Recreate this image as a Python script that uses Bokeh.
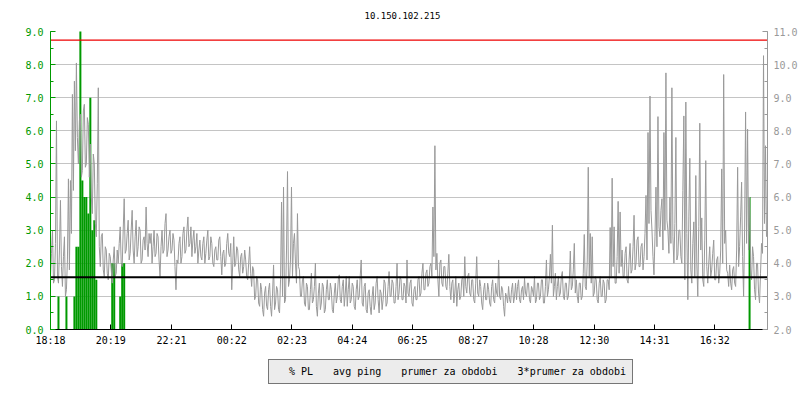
from bokeh.plotting import figure
from bokeh.layouts import column
from bokeh.models import (Range1d, LinearAxis, FixedTicker, SingleIntervalTicker,
                          PrintfTickFormatter, Legend, LegendItem)
from bokeh.embed import file_html
from bokeh.resources import INLINE

title_text = "10.150.102.215"

# time axis: minutes since 18:18, one ping sample every 2 minutes
x_start = 0
x_end = 1440
tick_minutes = [0, 121, 243, 364, 485, 606, 727, 849, 970, 1092, 1213, 1334]
tick_labels = ["18:18", "20:19", "22:21", "00:22", "02:23", "04:24",
               "06:25", "08:27", "10:28", "12:30", "14:31", "16:32"]

# avg ping [ms] (right axis)
ping_ms = [
    3.6, 4.3, 5.0, 3.4, 3.5, 4.6, 8.3, 3.6, 3.4, 4.4, 5.9, 3.9, 3.3, 4.2, 4.8, 3.0, 3.2, 4.1, 6.55, 3.8,
    6.5, 4.9, 9.1, 6.2, 9.5, 7.4, 10.05, 7.8, 7.0, 8.3, 8.5, 6.6, 6.8, 8.6, 8.8, 6.9, 7.0, 8.4, 8.2, 6.6,
    7.6, 6.0, 5.5, 7.3, 7.0, 5.2, 4.8, 6.4, 9.3, 4.5, 3.9, 4.8, 4.9, 3.8, 3.6, 4.5, 4.4, 3.7, 3.5, 4.3,
    4.2, 3.8, 3.4, 4.1, 4.5, 3.6, 3.7, 4.4, 4.0, 4.6, 5.1, 4.0, 3.9, 5.0, 5.95, 4.3, 4.4, 4.9, 5.3, 4.1,
    4.3, 5.0, 5.6, 4.4, 4.0, 4.8, 5.3, 4.2, 4.5, 5.1, 5.0, 4.0, 4.1, 4.7, 4.8, 4.4, 5.7, 4.6, 4.2, 4.9,
    4.6, 4.9, 4.0, 4.5, 5.0, 4.2, 4.3, 4.9, 4.8, 4.1, 3.6, 4.5, 5.0, 4.3, 4.4, 5.2, 5.5, 4.2, 4.4, 4.8,
    5.0, 4.3, 4.4, 4.9, 4.7, 3.9, 3.2, 4.1, 4.0, 4.6, 4.8, 4.0, 4.2, 4.9, 5.1, 4.3, 4.4, 5.0, 5.4, 4.5,
    4.6, 5.1, 4.2, 4.7, 5.0, 4.3, 4.5, 4.9, 4.0, 4.4, 4.7, 4.2, 4.1, 4.6, 4.8, 4.0, 4.3, 4.7, 5.0, 4.1,
    4.2, 4.8, 4.6, 4.0, 3.9, 4.4, 4.5, 4.1, 4.1, 4.7, 4.8, 4.2, 3.65, 4.3, 4.4, 3.9, 4.0, 4.6, 4.9, 4.3,
    4.2, 4.6, 3.2, 4.0, 4.8, 3.9, 4.0, 4.5, 4.4, 3.8, 3.6, 4.2, 4.3, 3.7, 3.9, 4.4, 4.1, 3.6, 3.5, 4.0,
    4.5, 3.7, 3.3, 3.9, 3.8, 2.9, 3.0, 3.6, 3.5, 2.8, 2.7, 3.4, 3.2, 2.6, 2.4, 3.1, 3.3, 2.7, 2.6, 3.2,
    3.4, 2.7, 2.4, 3.1, 3.95, 2.6, 2.8, 3.3, 3.2, 2.6, 2.5, 3.5, 5.85, 3.0, 6.3, 2.8, 2.9, 4.4, 6.77, 3.3,
    3.5, 4.1, 6.3, 3.6, 4.6, 4.9, 4.0, 3.4, 5.5, 3.9, 3.8, 3.0, 3.0, 3.5, 3.6, 2.8, 2.7, 3.4, 3.3, 2.6,
    2.6, 3.2, 3.7, 2.8, 2.9, 3.3, 4.0, 2.7, 2.4, 3.1, 3.4, 2.6, 2.8, 3.4, 3.3, 2.5, 2.6, 3.2, 3.5, 2.9,
    2.9, 3.4, 3.2, 2.6, 2.5, 3.1, 3.4, 2.8, 3.0, 3.5, 3.65, 2.9, 2.8, 3.3, 3.5, 2.7, 3.1, 3.6, 2.7, 3.2,
    3.6, 2.8, 2.9, 3.4, 3.3, 2.7, 2.6, 3.2, 3.5, 2.9, 3.0, 3.6, 4.1, 2.8, 2.7, 3.3, 3.4, 2.6, 2.5, 3.1,
    3.2, 2.7, 2.45, 3.0, 3.3, 2.6, 2.8, 3.4, 3.6, 2.9, 2.5, 3.2, 3.1, 2.6, 2.9, 3.5, 3.4, 2.7, 2.8, 3.3,
    3.75, 3.0, 3.0, 3.5, 3.4, 2.8, 2.8, 3.3, 4.0, 2.9, 3.1, 3.6, 3.5, 2.9, 2.9, 3.4, 3.3, 2.8, 4.1, 3.1,
    3.0, 3.4, 3.5, 2.8, 2.7, 3.2, 3.3, 2.9, 2.9, 3.5, 3.6, 3.0, 3.1, 3.7, 4.0, 3.2, 3.2, 3.7, 3.8, 3.3,
    3.4, 3.9, 4.0, 3.6, 5.7, 4.2, 7.55, 3.8, 4.3, 3.5, 3.0, 4.0, 4.1, 3.4, 3.3, 3.9, 3.9, 3.3, 3.2, 3.7,
    4.27, 3.3, 2.9, 3.4, 3.5, 2.8, 3.1, 3.6, 2.7, 3.2, 3.4, 2.9, 3.0, 3.5, 3.6, 3.0, 4.2, 3.3, 3.1, 3.6,
    3.7, 3.1, 3.0, 3.5, 3.5, 2.9, 2.8, 3.4, 4.2, 3.1, 3.0, 3.5, 3.3, 2.8, 2.6, 3.2, 3.4, 2.9, 2.9, 3.4,
    3.2, 2.8, 2.7, 3.3, 3.5, 2.9, 2.8, 3.4, 3.1, 3.0, 4.1, 3.0, 2.9, 3.3, 3.2, 2.7, 2.4, 3.1, 3.0, 2.8,
    3.3, 2.9, 2.8, 3.2, 3.4, 2.8, 3.0, 3.4, 2.9, 3.3, 3.5, 2.9, 2.8, 3.2, 3.3, 2.9, 3.55, 3.1, 3.0, 3.4,
    3.4, 2.9, 2.8, 3.3, 3.2, 3.0, 3.6, 2.8, 2.9, 3.4, 3.4, 2.9, 3.0, 3.5, 3.5, 2.8, 2.8, 3.3, 4.1, 3.0,
    3.2, 3.6, 4.27, 3.4, 5.15, 3.0, 3.3, 3.7, 2.9, 3.3, 3.6, 3.0, 3.1, 3.6, 3.75, 3.0, 2.9, 3.4, 3.4, 2.9,
    3.0, 3.5, 4.37, 3.2, 3.3, 3.8, 4.6, 3.1, 3.5, 3.0, 2.8, 3.4, 3.4, 2.9, 3.0, 3.7, 4.87, 3.3, 3.2, 4.1,
    6.9, 3.6, 4.9, 3.4, 4.8, 3.0, 3.1, 3.6, 3.5, 2.9, 2.8, 3.4, 3.6, 3.0, 3.0, 3.5, 3.4, 2.8, 2.9, 3.5,
    3.5, 3.2, 5.08, 3.6, 6.57, 3.9, 5.1, 3.4, 3.4, 4.2, 5.87, 3.7, 5.55, 3.9, 4.4, 3.6, 3.6, 4.3, 4.5, 3.5,
    3.4, 4.1, 4.6, 3.7, 3.8, 4.5, 5.45, 3.8, 4.0, 4.7, 4.8, 3.9, 3.9, 4.5, 4.6, 3.8, 4.2, 4.9, 6.05, 4.1,
    7.95, 5.2, 9.05, 5.6, 5.0, 4.2, 3.65, 4.8, 6.3, 4.5, 8.43, 5.1, 4.8, 5.6, 5.95, 4.4, 7.95, 5.0, 9.75, 5.3,
    5.0, 4.3, 6.0, 4.6, 9.3, 4.8, 4.0, 5.2, 7.8, 4.1, 4.25, 5.0, 5.0, 4.2, 4.0, 6.2, 8.45, 3.5, 8.87, 4.9,
    2.9, 5.4, 7.17, 3.8, 3.4, 4.6, 5.25, 3.6, 6.65, 4.0, 3.0, 5.1, 8.23, 4.4, 5.37, 3.5, 3.3, 4.7, 7.1, 3.9,
    3.4, 4.0, 4.5, 3.6, 3.8, 4.3, 4.7, 3.5, 3.5, 4.1, 4.2, 3.4, 3.7, 4.4, 6.85, 4.0, 9.7, 4.6, 5.0, 3.8,
    3.7, 3.3, 3.95, 3.4, 3.2, 3.8, 3.9, 3.4, 3.3, 4.4, 6.9, 3.9, 4.5, 5.4, 6.45, 4.2, 3.0, 5.0, 8.57, 4.6,
    8.05, 4.4, 6.0, 3.8, 3.5, 4.5, 4.2, 3.2, 2.9, 4.0, 4.0, 3.1, 2.8, 3.7, 4.6, 4.3, 10.27, 5.2, 7.55, 4.8,
]
ping_minutes = list(range(0, 2 * len(ping_ms), 2))

# packet loss [%] (left axis), only the non-zero samples (4-minute steps)
pl_minutes = [16, 32, 48, 52, 56, 60, 64, 68, 72, 76, 80, 84, 88, 92,
              124, 128, 140, 144, 148, 1404]
pl_values = [1.0, 1.0, 1.0, 2.5, 2.5, 100.0, 4.5, 4.0, 4.0, 3.5, 7.0, 3.0, 3.3, 1.5,
             2.0, 2.0, 1.0, 2.0, 2.0, 4.0]
pl_zero = [0.0] * len(pl_values)

# average ping for the whole period [ms]
mean_ping = 3.58
mean_x = [x_start, x_end]
mean_y = [mean_ping, mean_ping]
triple_y = [3 * mean_ping, 3 * mean_ping]

legend_labels = ["% PL", "avg ping", "prumer za obdobi", "3*prumer za obdobi"]

GREEN = "#009900"
GRAY = "#999999"
RED = "#ee0000"
GRID = "#c4c4c4"
FONT = "DejaVu Sans Mono"

p = figure(width=800, height=348, output_backend="svg", toolbar_location=None,
           x_range=Range1d(x_start, x_end), y_range=Range1d(0, 9),
           min_border_left=50, min_border_right=30, min_border_top=31,
           min_border_bottom=18)
p.outline_line_color = None
p.extra_y_ranges = {"ping": Range1d(2, 11)}

# title
p.title.text = title_text
p.title.align = "left"
p.title.offset = 314
p.title.standoff = 21
p.title.vertical_align = "top"
p.title.text_font = FONT
p.title.text_font_size = "9px"
p.title.text_font_style = "normal"
p.title.text_color = "black"

# grids
p.xgrid.visible = False
yt = SingleIntervalTicker(interval=1, num_minor_ticks=2)
p.ygrid.ticker = yt
p.ygrid.grid_line_color = GRID

# x axis
xa = p.xaxis[0]
xa.ticker = FixedTicker(ticks=tick_minutes)
xa.major_label_overrides = {t: s for t, s in zip(tick_minutes, tick_labels)}
xa.axis_line_color = "black"
xa.major_tick_line_color = "black"
xa.major_tick_in = 5
xa.major_tick_out = 0
xa.minor_tick_line_color = None
xa.major_label_standoff = 5
xa.major_label_text_font = FONT
xa.major_label_text_font_size = "10px"
xa.major_label_text_color = "black"

# left axis
ya = p.yaxis[0]
ya.ticker = yt
ya.formatter = PrintfTickFormatter(format="%.1f")
ya.axis_line_color = GREEN
ya.major_tick_line_color = GREEN
ya.minor_tick_line_color = GREEN
ya.major_tick_in = 5
ya.major_tick_out = 0
ya.minor_tick_in = 3
ya.minor_tick_out = 0
ya.major_label_standoff = 7
ya.major_label_text_font = FONT
ya.major_label_text_font_size = "10px"
ya.major_label_text_color = GREEN

# right axis
ra = LinearAxis(y_range_name="ping",
                ticker=SingleIntervalTicker(interval=1, num_minor_ticks=2),
                formatter=PrintfTickFormatter(format="%.1f"))
ra.axis_line_color = GRAY
ra.major_tick_line_color = GRAY
ra.minor_tick_line_color = GRAY
ra.major_tick_in = 5
ra.major_tick_out = 0
ra.minor_tick_in = 3
ra.minor_tick_out = 0
ra.major_label_standoff = 6
ra.major_label_text_font = FONT
ra.major_label_text_font_size = "10px"
ra.major_label_text_color = GRAY
p.add_layout(ra, "right")

# data
p.segment(x0=pl_minutes, y0=pl_zero, x1=pl_minutes, y1=pl_values,
          line_color=GREEN, line_width=2)
p.line(ping_minutes, ping_ms, y_range_name="ping", line_color=GRAY, line_width=1)
p.line(mean_x, mean_y, y_range_name="ping", line_color="black", line_width=2)
p.line(mean_x, triple_y, y_range_name="ping", line_color=RED, line_width=1.2)

# legend strip below the chart (its own small figure, same styles as the series)
lg = figure(width=800, height=52, output_backend="svg", toolbar_location=None,
            x_range=Range1d(0, 1), y_range=Range1d(0, 1),
            x_axis_type=None, y_axis_type=None, min_border=0)
lg.outline_line_color = None
lg.grid.visible = False
k_pl = lg.segment(x0=[], y0=[], x1=[], y1=[], line_color=GREEN, line_width=2)
k_ping = lg.line(x=[], y=[], line_color=GRAY, line_width=2)
k_mean = lg.line(x=[], y=[], line_color="black", line_width=2)
k_triple = lg.line(x=[], y=[], line_color=RED, line_width=2)

legend = Legend(items=[
    LegendItem(label=legend_labels[0], renderers=[k_pl]),
    LegendItem(label=legend_labels[1], renderers=[k_ping]),
    LegendItem(label=legend_labels[2], renderers=[k_mean]),
    LegendItem(label=legend_labels[3], renderers=[k_triple]),
], location=(218, 16), orientation="horizontal")
legend.label_text_font = FONT
legend.label_text_font_size = "10px"
legend.label_text_color = "black"
legend.glyph_width = 10
legend.glyph_height = 11
legend.label_height = 11
legend.label_standoff = 4
legend.spacing = 6
legend.padding = 6
legend.margin = 0
legend.border_line_color = "black"
legend.border_line_width = 1
legend.background_fill_color = "#ececec"
legend.background_fill_alpha = 1
lg.add_layout(legend, "center")

layout = column(p, lg)
open("out.html", "w").write(file_html(layout, INLINE))
